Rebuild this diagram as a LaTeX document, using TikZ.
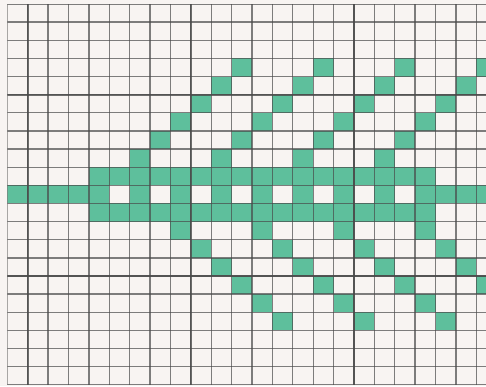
\documentclass[tikz,border=0pt]{standalone}
\definecolor{paper}{HTML}{F8F4F2}
\definecolor{cellgreen}{HTML}{5EBF9C}
\definecolor{gridgray}{HTML}{4A4A4A}
\tikzset{
  cell/.style={fill=cellgreen},
  gridline/.style={draw=gridgray, draw opacity=0.7, line width=1.0pt},
  gridthick/.style={draw=gridgray, draw opacity=0.8, line width=1.6pt}
}
\begin{document}
\begin{tikzpicture}[x=15.2925pt, y=-13.5975pt]
\useasboundingbox (-0.358,-0.2206) rectangle (23.476,21.07);
\fill[paper] (-0.358,-0.2206) rectangle (23.476,21.07);
\begin{scope}
\clip (0,0) rectangle (23.476,21);
% central band
\foreach \c in {4,...,20}{
  \fill[cell] (\c,9) rectangle ++(1,1);
  \fill[cell] (\c,11) rectangle ++(1,1);
}
\foreach \c in {0,1,2,3,4,6,8,10,12,14,16,18,20,21,22,23}{
  \fill[cell] (\c,10) rectangle ++(1,1);
}
% upper diagonals
\foreach \s in {6,10,14,18}{
  \foreach \k in {0,...,5}{
    \fill[cell] ({\s+\k},{8-\k}) rectangle ++(1,1);
  }
}
% lower diagonals
\foreach \s in {8,12,16,20}{
  \foreach \k in {0,...,5}{
    \fill[cell] ({\s+\k},{12+\k}) rectangle ++(1,1);
  }
}
% grid
\foreach \c in {0,...,23}{
  \draw[gridline] (\c,0) -- (\c,21);
}
\foreach \r in {0,...,21}{
  \draw[gridline] (0,\r) -- (23.476,\r);
}
\foreach \c in {1,9,17}{
  \draw[gridthick] (\c,0) -- (\c,21);
}
\foreach \r in {5,15}{
  \draw[gridthick] (0,\r) -- (23.476,\r);
}
\end{scope}
\end{tikzpicture}
\end{document}
